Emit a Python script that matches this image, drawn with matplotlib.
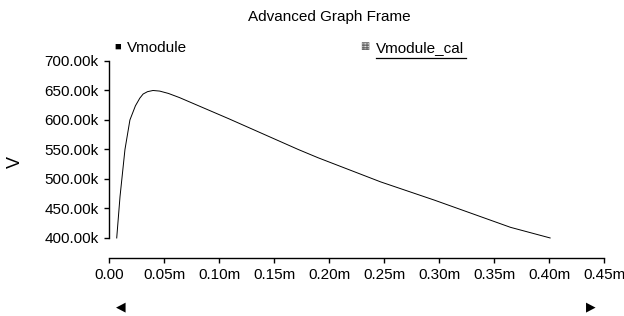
import matplotlib
matplotlib.use("Agg")
import matplotlib.pyplot as plt
from matplotlib.ticker import FuncFormatter

plt.rcParams['font.family'] = ['Liberation Sans', 'DejaVu Sans']

# data (time in ms-units "m", voltage in k)
time_m = [0.007, 0.010, 0.0145, 0.019, 0.024, 0.028, 0.031, 0.035, 0.040, 0.046, 0.054, 0.064,
          0.109, 0.172, 0.190, 0.247, 0.296, 0.365, 0.401]
vmodule_k = [400, 470, 550, 600, 624, 637, 644, 648, 650, 649, 645, 638,
             602, 550, 536, 495, 464, 418, 400]
x_ticks = [0.00, 0.05, 0.10, 0.15, 0.20, 0.25, 0.30, 0.35, 0.40, 0.45]
y_ticks = [400, 450, 500, 550, 600, 650, 700]

fig = plt.figure(figsize=(6.24, 3.16), dpi=100)
ax = fig.add_axes([0.1747, 0.1835, 0.968 - 0.1747, 0.807 - 0.1835])

ax.plot(time_m, vmodule_k, color='black', lw=0.7)

ax.set_xlim(0, 0.45)
ax.set_ylim(366, 700)
ax.set_xticks(x_ticks)
ax.set_yticks(y_ticks)
ax.xaxis.set_major_formatter(FuncFormatter(lambda v, p: "0.00" if abs(v) < 1e-9 else f"{v:.2f}m"))
ax.yaxis.set_major_formatter(FuncFormatter(lambda v, p: f"{v:.2f}k"))
for s in ['top', 'right']:
    ax.spines[s].set_visible(False)
ax.spines['left'].set_bounds(400, 700)
ax.spines['left'].set_linewidth(1.0)
ax.spines['bottom'].set_linewidth(1.0)
ax.tick_params(axis='both', labelsize=11, length=3.5, width=1.0, colors='black')
ax.tick_params(axis='y', pad=4)
ax.tick_params(axis='x', pad=3.5)

# y-axis label
fig.text(0.024, 0.487, 'V', rotation=90, ha='center', va='center', fontsize=13)

fig.text(0.527, 0.945, 'Advanced Graph Frame', ha='center', va='center', fontsize=11)
# legend entries
fig.text(0.188, 0.853, '\u25A0', ha='center', va='center', fontsize=8)
fig.text(0.203, 0.848, 'Vmodule', ha='left', va='center', fontsize=11)
fig.text(0.585, 0.853, '\u25A6', ha='center', va='center', fontsize=7, color='0.3')
fig.text(0.603, 0.848, 'Vmodule_cal', ha='left', va='center', fontsize=11)
fig.add_artist(plt.Line2D([0.603, 0.747], [0.818, 0.818], color='black', lw=0.9,
                          transform=fig.transFigure))
# scroll arrows
fig.text(0.194, 0.028, '\u25C0', ha='center', va='center', fontsize=9)
fig.text(0.946, 0.028, '\u25B6', ha='center', va='center', fontsize=9)

fig.savefig('out.png', dpi=100)
